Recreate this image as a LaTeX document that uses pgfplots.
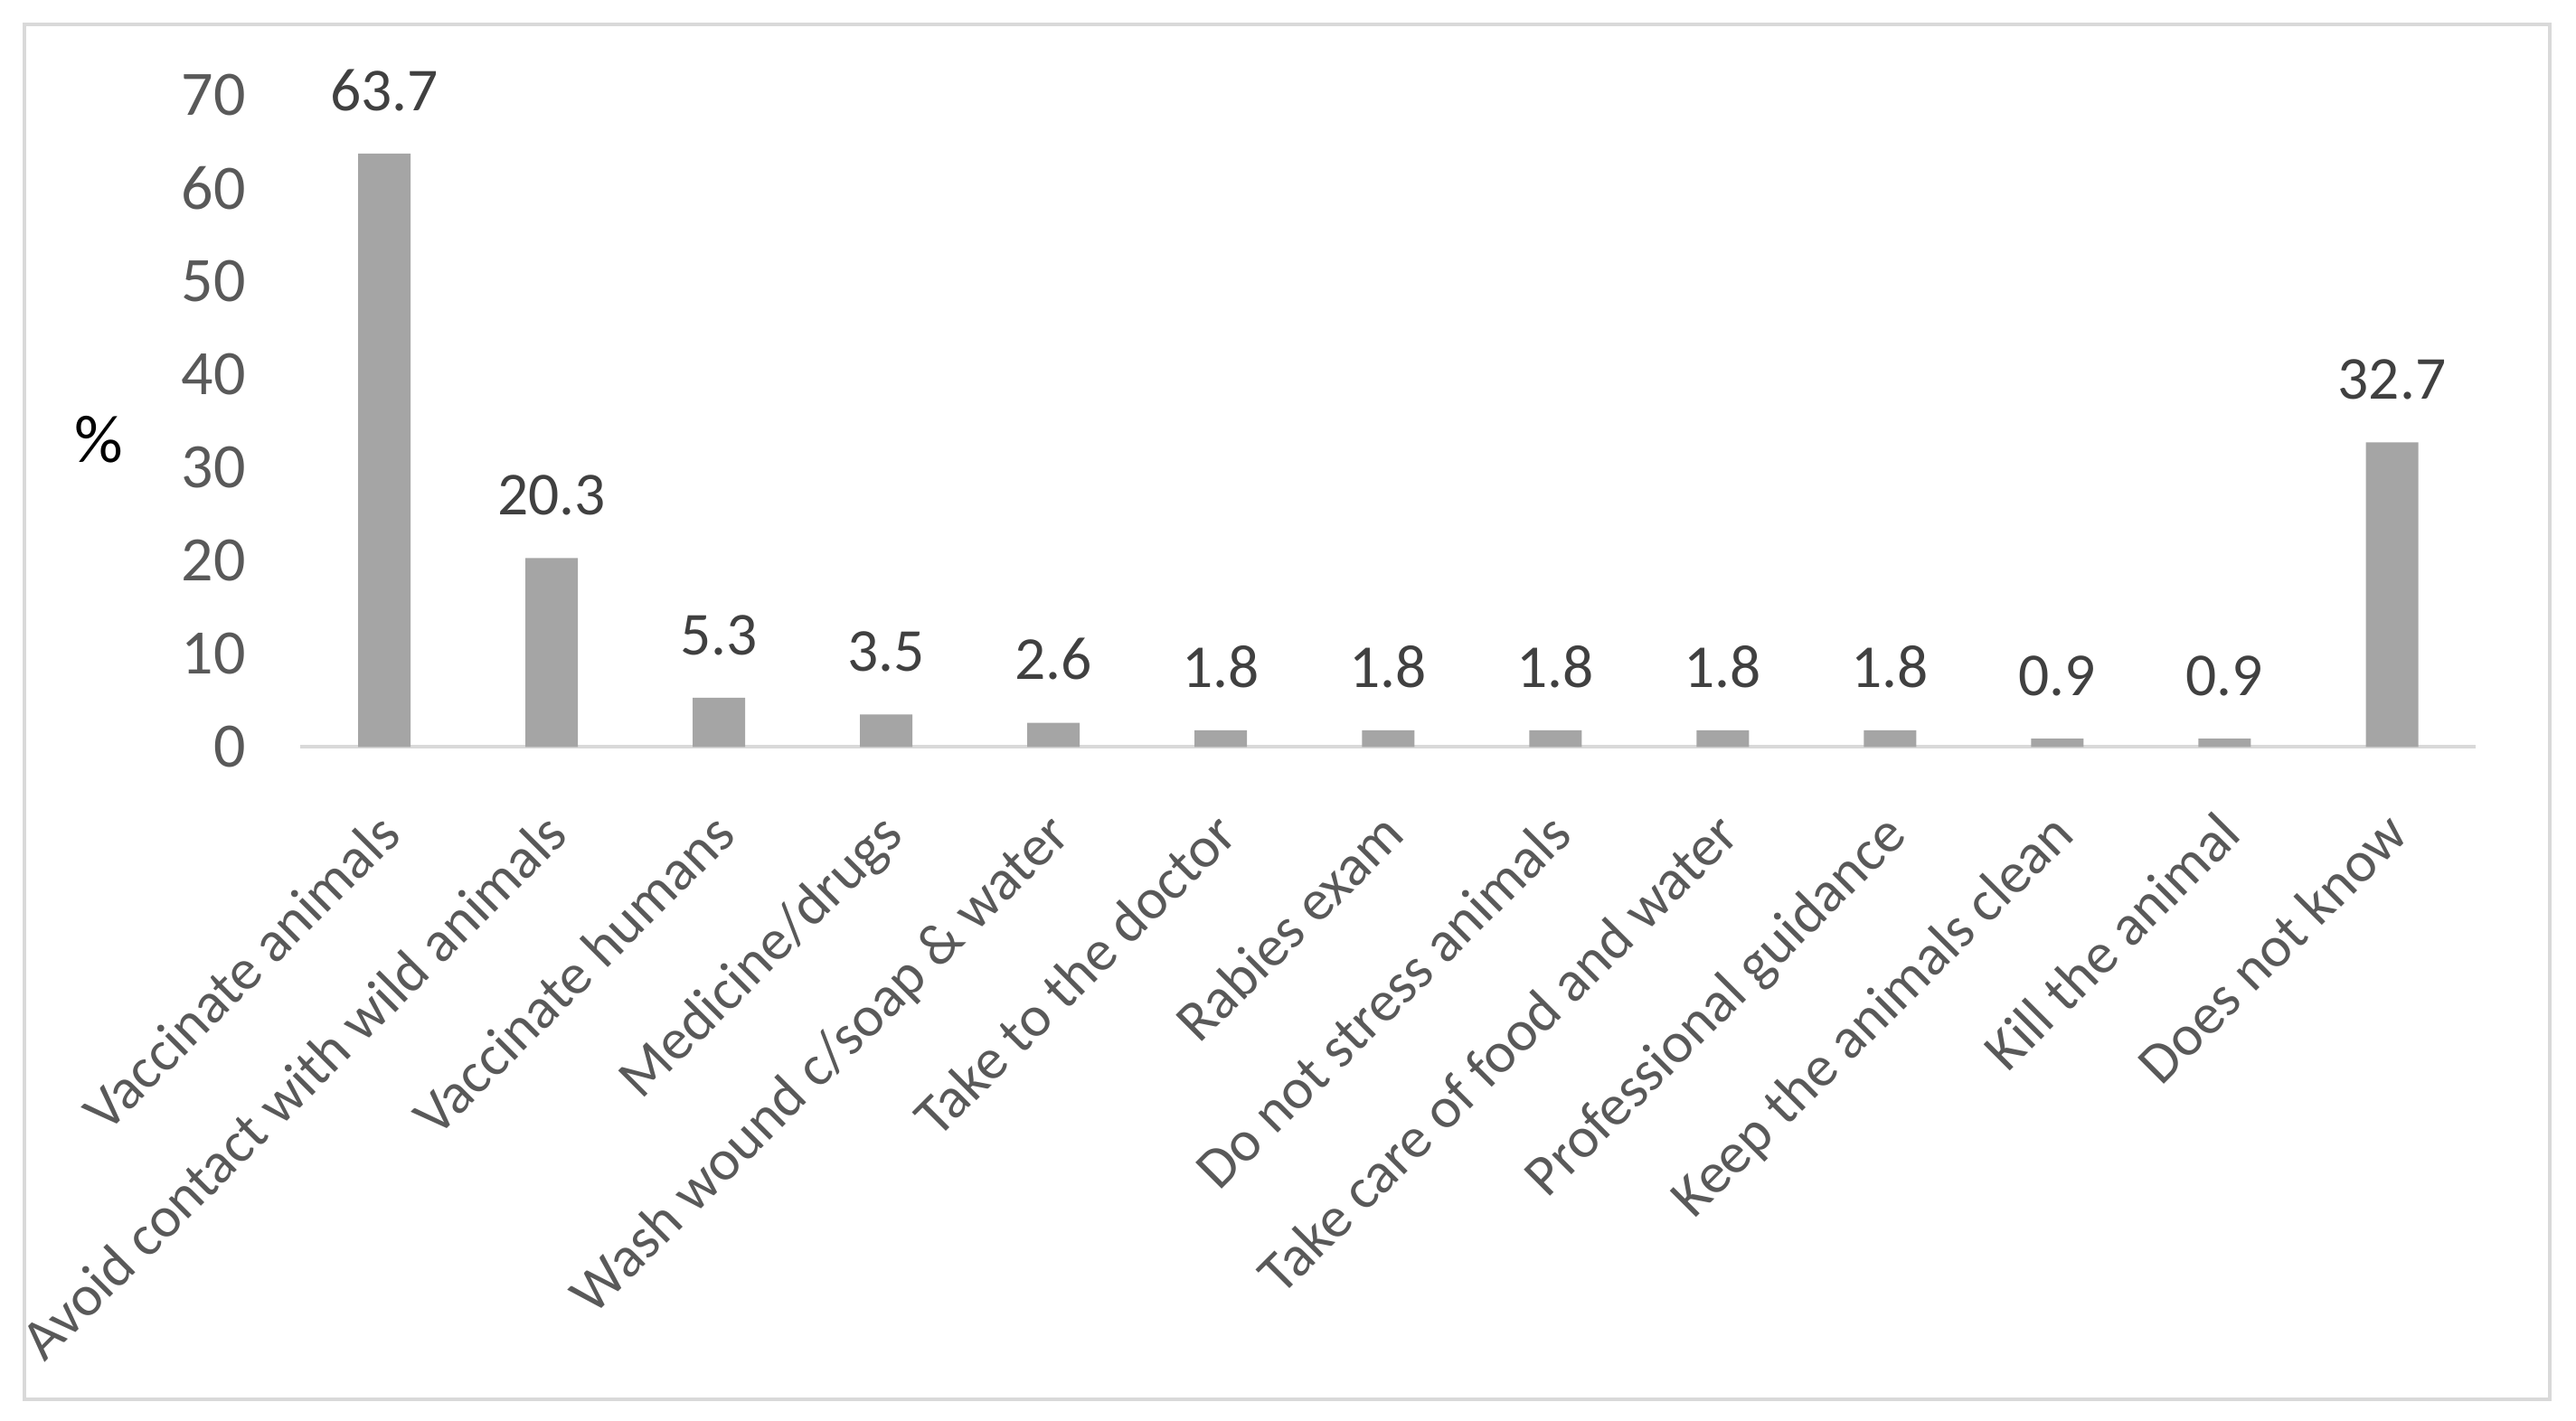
\documentclass[border=0pt]{standalone}
\usepackage{fontspec}
\setmainfont{Carlito}
\usepackage{pgfplots}
\pgfplotsset{compat=1.18}
\definecolor{barGray}{HTML}{A5A5A5}
\definecolor{lineGray}{HTML}{D9D9D9}
\definecolor{tickGray}{HTML}{595959}
\definecolor{labelGray}{HTML}{404040}

\begin{document}
\begin{tikzpicture}
\begin{axis}[
  scale only axis,
  width=481.1pt, height=144.3pt,
  ybar, bar width=11.6pt,
  xmin=-0.5, xmax=12.5,
  ymin=0, ymax=70,
  ytick={0,10,...,70},
  xtick=data,
  xticklabels={
    Vaccinate animals,
    Avoid contact with wild animals,
    Vaccinate humans,
    Medicine/drugs,
    Wash wound c/soap \& water,
    Take to the doctor,
    Rabies exam,
    Do not stress animals,
    Take care of food and water,
    Professional guidance,
    Keep the animals clean,
    Kill the animal,
    Does not know},
  axis x line*=bottom,
  axis y line*=left,
  x axis line style={draw=lineGray, line width=0.8pt, -},
  y axis line style={draw=none},
  major tick length=0pt,
  /pgf/number format/assume math mode=true,
  yticklabel style={font=\fontsize{14}{16}\selectfont, text=tickGray,
    anchor=east, inner sep=0pt, xshift=-12pt},
  xticklabel style={font=\fontsize{12.8}{15}\selectfont, text=tickGray,
    rotate=45, anchor=north east, inner sep=0pt, yshift=-8pt, xshift=-11pt},
  nodes near coords,
  nodes near coords style={font=\fontsize{13.5}{16}\selectfont, text=labelGray,
    anchor=south, yshift=5.9pt,
    /pgf/number format/fixed, /pgf/number format/fixed zerofill,
    /pgf/number format/precision=1},
]
\addplot[fill=barGray, draw=none]
  coordinates {
    (0,  63.7)
    (1,  20.3)
    (2,  5.3)
    (3,  3.5)
    (4,  2.6)
    (5,  1.8)
    (6,  1.8)
    (7,  1.8)
    (8,  1.8)
    (9,  1.8)
    (10, 0.9)
    (11, 0.9)
    (12, 32.7)
  };
\coordinate (LL) at (rel axis cs:0,0);
\coordinate (UR) at (rel axis cs:1,1);
\coordinate (PC) at (rel axis cs:0,0.471);
\end{axis}
\node[font=\fontsize{15}{17}\selectfont, anchor=center] at ([xshift=-44.7pt]PC) {\%};
\pgfresetboundingbox
\path[use as bounding box] ([xshift=-66.5pt,yshift=-149pt]LL) rectangle ([xshift=22.2pt,yshift=21pt]UR);
\draw[lineGray, line width=0.8pt] ([xshift=-61.1pt,yshift=-144.3pt]LL) rectangle ([xshift=16.4pt,yshift=15.6pt]UR);
\end{tikzpicture}
\end{document}
